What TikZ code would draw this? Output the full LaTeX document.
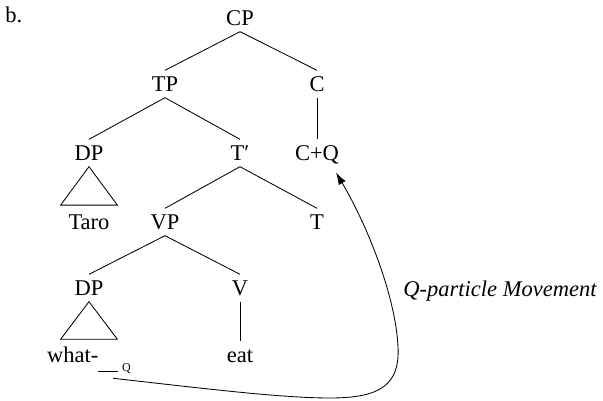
\documentclass[tikz,border=0pt]{standalone}
\usepackage{fontspec}
\setmainfont{Liberation Serif}
\usetikzlibrary{arrows.meta}

\begin{document}
\begin{tikzpicture}
[x=0.025cm,y=-0.025cm,
cat/.style={font=\fontsize{16}{19}\selectfont,inner xsep=0pt,inner ysep=0.15cm,text height=0.37cm,text depth=0pt},
edge/.style={line width=0.6pt},
move/.style={-{Latex[length=3mm,width=2mm]}},
moveLabel/.style={cat,font=\fontsize{16}{19}\selectfont\itshape},
]\useasboundingbox (0,0) rectangle (603,400);
\node[cat,anchor=west] (ex) at (5,15) {b.};
\node[cat,] (cp) at (240,18) {CP};
\node[cat,] (tp) at (165,84) {TP};
\node[cat,] (c) at (317,84) {C};
\node[cat,] (dpa) at (89,153) {DP};
\node[cat,] (tbar) at (240,153) {T′};
\node[cat,] (cq) at (317,153) {C+Q};
\node[cat,] (taro) at (89,222) {Taro};
\node[cat,] (vp) at (165,222) {VP};
\node[cat,] (t) at (317,222) {T};
\node[cat,] (dpb) at (89,288) {DP};
\node[cat,] (v) at (240,288) {V};
\node[cat,] (what) at (89,355) {what-\raisebox{-0.225cm}{\rule{0.5cm}{0.5pt}\,{\fontsize{8.5}{9}\selectfont Q}}};
\node[cat,] (eat) at (240,355) {eat};
\node[moveLabel,] (lbl) at (500,289) {Q-particle Movement};
\coordinate (gap) at ([shift={(0.6cm,-0.24cm)}]what.south);
\coordinate (landing) at ([shift={(-0.08cm,-0.15cm)}]cq.south east);
\draw[edge,](cp.south) -- (tp.north) ;
\draw[edge,](cp.south) -- (c.north) ;
\draw[edge,](tp.south) -- (dpa.north) ;
\draw[edge,](tp.south) -- (tbar.north) ;
\draw[edge,](c.south) -- (cq.north) ;
\draw[edge,](dpa.south) -- ([shift={(-0.71cm,0.08cm)}]taro.north) -- ([shift={(0.71cm,0.08cm)}]taro.north) -- cycle ;
\draw[edge,](tbar.south) -- (vp.north) ;
\draw[edge,](tbar.south) -- (t.north) ;
\draw[edge,](vp.south) -- (dpb.north) ;
\draw[edge,](vp.south) -- (v.north) ;
\draw[edge,](dpb.south) -- ([shift={(-0.71cm,0.05cm)}]what.north) -- ([shift={(0.71cm,0.05cm)}]what.north) -- cycle ;
\draw[edge,](v.south) -- (eat.north) ;
\draw[edge,move,](gap) .. controls (200,388) and (280,398) .. (330,398) .. controls (380,398) and (400,385) .. (398,347) .. controls (396,300) and (370,230) .. (landing) ;
\end{tikzpicture}
\end{document}
